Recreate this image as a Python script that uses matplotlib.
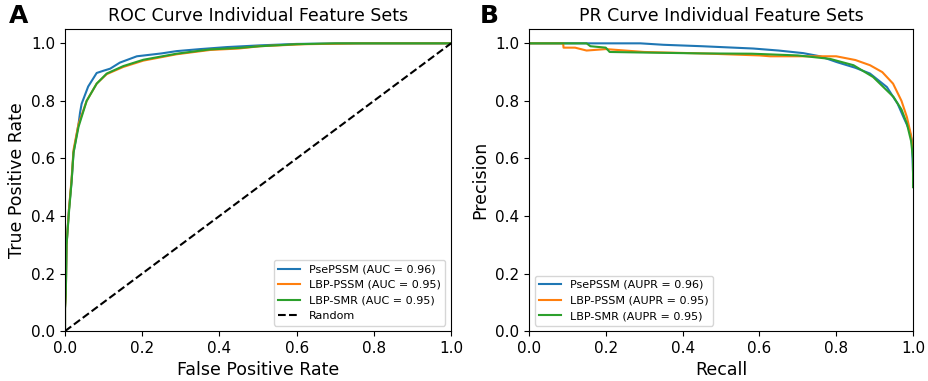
import matplotlib
matplotlib.use("Agg")
import matplotlib.pyplot as plt

# ROC data (FPR, TPR)
roc_pse_fpr = [0.0, 0.0, 0.002, 0.004, 0.01, 0.017, 0.022, 0.035, 0.039, 0.043, 0.06, 0.082, 0.1, 0.117, 0.142, 0.186, 0.25, 0.289, 0.35, 0.419, 0.505, 0.6, 0.75, 1.0]
roc_pse_tpr = [0.0, 0.08, 0.13, 0.3, 0.42, 0.52, 0.62, 0.72, 0.76, 0.79, 0.85, 0.897, 0.905, 0.912, 0.933, 0.955, 0.965, 0.973, 0.98, 0.987, 0.993, 0.998, 1.0, 1.0]

roc_lbp_fpr = [0.0, 0.0, 0.002, 0.004, 0.01, 0.017, 0.022, 0.035, 0.056, 0.082, 0.108, 0.151, 0.203, 0.289, 0.376, 0.45, 0.505, 0.62, 0.77, 1.0]
roc_lbp_tpr = [0.0, 0.08, 0.13, 0.3, 0.42, 0.53, 0.63, 0.72, 0.80, 0.86, 0.893, 0.918, 0.94, 0.962, 0.977, 0.982, 0.99, 0.997, 1.0, 1.0]

roc_smr_fpr = [0.0, 0.0, 0.002, 0.004, 0.01, 0.017, 0.022, 0.035, 0.056, 0.082, 0.108, 0.151, 0.203, 0.289, 0.376, 0.45, 0.505, 0.6, 0.7, 1.0]
roc_smr_tpr = [0.0, 0.08, 0.13, 0.3, 0.41, 0.52, 0.62, 0.71, 0.80, 0.86, 0.895, 0.921, 0.943, 0.964, 0.979, 0.984, 0.99, 0.997, 1.0, 1.0]

# PR data (Recall, Precision)
pr_pse_rec = [0.0, 0.29, 0.35, 0.45, 0.584, 0.65, 0.714, 0.758, 0.801, 0.85, 0.888, 0.932, 0.96, 0.975, 0.99, 0.997, 1.0]
pr_pse_prec = [1.0, 1.0, 0.995, 0.99, 0.982, 0.975, 0.966, 0.955, 0.935, 0.915, 0.895, 0.848, 0.79, 0.744, 0.7, 0.663, 0.55]

pr_lbp_rec = [0.0, 0.089, 0.09, 0.12, 0.15, 0.2, 0.3, 0.45, 0.6, 0.628, 0.7, 0.8, 0.85, 0.888, 0.92, 0.948, 0.97, 0.984, 0.995, 1.0, 1.0]
pr_lbp_prec = [1.0, 1.0, 0.985, 0.985, 0.975, 0.98, 0.97, 0.965, 0.958, 0.955, 0.955, 0.955, 0.942, 0.924, 0.9, 0.86, 0.8, 0.744, 0.68, 0.62, 0.56]

pr_smr_rec = [0.0, 0.15, 0.16, 0.2, 0.21, 0.3, 0.45, 0.58, 0.7, 0.784, 0.845, 0.896, 0.949, 0.97, 0.984, 0.995, 1.0, 1.0]
pr_smr_prec = [1.0, 1.0, 0.99, 0.985, 0.97, 0.968, 0.965, 0.964, 0.958, 0.946, 0.924, 0.883, 0.814, 0.77, 0.721, 0.66, 0.6, 0.5]

labels = ["PsePSSM", "LBP-PSSM", "LBP-SMR"]
auc_vals = [0.96, 0.95, 0.95]
aupr_vals = [0.96, 0.95, 0.95]
colors = ["#1f77b4", "#ff7f0e", "#2ca02c"]

fig = plt.figure(figsize=(9.29, 3.81), dpi=100)
ax1 = fig.add_axes([0.070, 0.131, 0.4155, 0.793])
ax2 = fig.add_axes([0.5694, 0.131, 0.4134, 0.793])

roc_x = [roc_pse_fpr, roc_lbp_fpr, roc_smr_fpr]
roc_y = [roc_pse_tpr, roc_lbp_tpr, roc_smr_tpr]
for x, y, lab, a, c in zip(roc_x, roc_y, labels, auc_vals, colors):
    ax1.plot(x, y, color=c, lw=1.5, label=f"{lab} (AUC = {a:.2f})")
ax1.plot([0, 1], [0, 1], "k--", lw=1.5, label="Random")
ax1.set_xlim(0, 1)
ax1.set_ylim(0, 1.05)
ax1.set_xlabel("False Positive Rate", fontsize=12.5)
ax1.set_ylabel("True Positive Rate", fontsize=12.5)
ax1.set_title("ROC Curve Individual Feature Sets", fontsize=12.5)
ax1.tick_params(labelsize=11)
ax1.legend(loc="lower right", fontsize=8)

pr_x = [pr_pse_rec, pr_lbp_rec, pr_smr_rec]
pr_y = [pr_pse_prec, pr_lbp_prec, pr_smr_prec]
for x, y, lab, a, c in zip(pr_x, pr_y, labels, aupr_vals, colors):
    ax2.plot(x, y, color=c, lw=1.5, label=f"{lab} (AUPR = {a:.2f})")
ax2.set_xlim(0, 1)
ax2.set_ylim(0, 1.05)
ax2.set_xlabel("Recall", fontsize=12.5)
ax2.set_ylabel("Precision", fontsize=12.5)
ax2.set_title("PR Curve Individual Feature Sets", fontsize=12.5)
ax2.tick_params(labelsize=11)
ax2.legend(loc="lower left", fontsize=8)

fig.text(0.010, 0.94, "A", fontsize=18, fontweight="bold")
fig.text(0.516, 0.94, "B", fontsize=18, fontweight="bold")

fig.savefig("out.png", dpi=100)
